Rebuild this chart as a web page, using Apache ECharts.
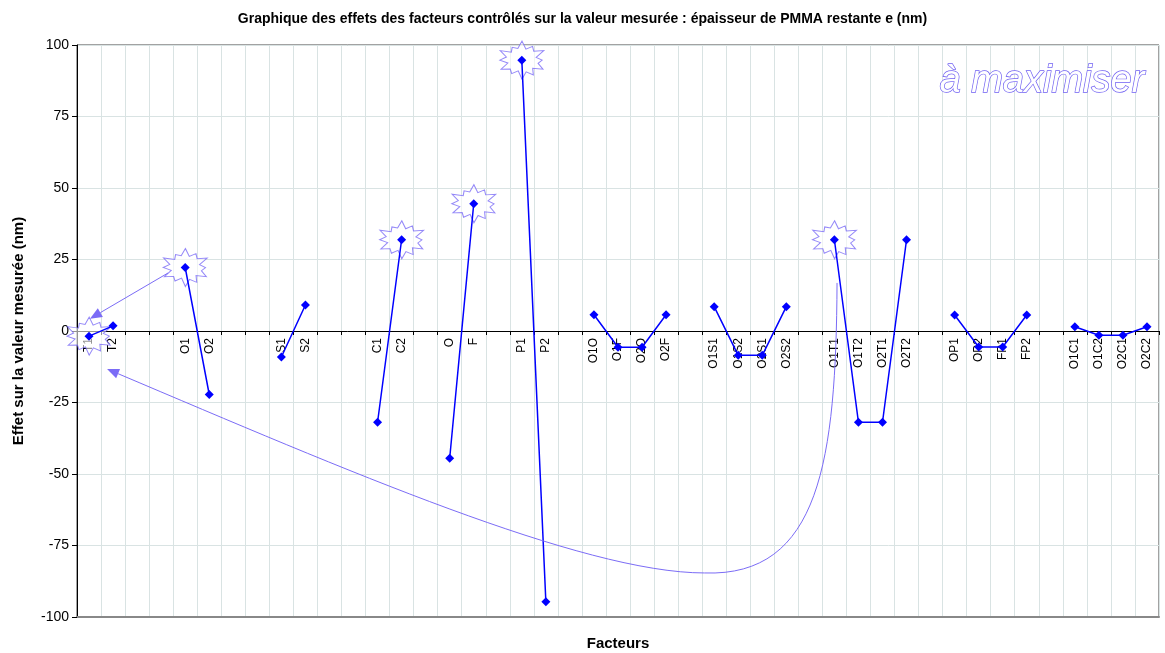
<!DOCTYPE html>
<html>
<head>
<meta charset="utf-8">
<script src="https://cdn.jsdelivr.net/npm/echarts@6/dist/echarts.min.js"></script>
<style>
  html, body { margin: 0; padding: 0; background: #ffffff; }
  #chart { width: 1165px; height: 653px; }
</style>
</head>
<body>
<div id="chart"></div>
<script>
// Factor levels along the x axis (empty slots separate the factor groups)
const categories = [
  'T1', 'T2', '', '',
  'O1', 'O2', '', '',
  'S1', 'S2', '', '',
  'C1', 'C2', '',
  'O', 'F', '',
  'P1', 'P2', '',
  'O1O', 'O1F', 'O2O', 'O2F', '',
  'O1S1', 'O1S2', 'O2S1', 'O2S2', '',
  'O1T1', 'O1T2', 'O2T1', 'O2T2', '',
  'OP1', 'OP2', 'FP1', 'FP2', '',
  'O1C1', 'O1C2', 'O2C1', 'O2C2'
];

// Effect of each level on the remaining PMMA thickness e (nm)
const effects = [
  -1.8, 1.8, null, null,
  22.2, -22.2, null, null,
  -9.1, 9.1, null, null,
  -31.9, 31.9, null,
  -44.5, 44.5, null,
  94.7, -94.7, null,
  5.7, -5.7, -5.7, 5.7, null,
  8.5, -8.5, -8.5, 8.5, null,
  31.9, -31.9, -31.9, 31.9, null,
  5.6, -5.6, -5.6, 5.6, null,
  1.5, -1.5, -1.5, 1.5
];

// Levels flagged with a burst
const highlighted = ['T1', 'O1', 'C2', 'F', 'P1', 'O1T1'];

// Value axis range
const yMin = -100, yMax = 100, yStep = 25;

const ACCENT = '#7b6cf6';
const BLUE = '#0000ff';
const GRID = '#d9e3e3';
const FONT = '"Liberation Sans", Arial, sans-serif';

const GRID_TOP = 45, GRID_BOTTOM = 36, CHART_H = 653;
const plotHeight = CHART_H - GRID_TOP - GRID_BOTTOM;
// Raise the category axis from the bottom edge up to the zero line
const zeroOffset = -plotHeight * (0 - yMin) / (yMax - yMin);

// Irregular 12-point burst outline used as a symbol
function burstSymbol() {
  const outer = [50, 42, 50, 40, 48, 45, 50, 41, 48, 44, 50, 39];
  const inner = [30, 33, 29, 33, 30, 32, 29, 33, 29, 32, 30, 32];
  let d = '';
  for (let k = 0; k < 12; k++) {
    const a1 = (k * 30 - 90) * Math.PI / 180;
    const a2 = (k * 30 - 75) * Math.PI / 180;
    const xo = 50 + outer[k] * Math.cos(a1), yo = 50 + outer[k] * Math.sin(a1);
    const xi = 50 + inner[k] * Math.cos(a2), yi = 50 + inner[k] * Math.sin(a2);
    d += (k ? 'L' : 'M') + xo.toFixed(1) + ' ' + yo.toFixed(1) + 'L' + xi.toFixed(1) + ' ' + yi.toFixed(1);
  }
  return 'path://' + d + 'Z';
}

const burstData = highlighted.map(function (c) {
  const i = categories.indexOf(c);
  return [i, effects[i]];
});

const chart = echarts.init(document.getElementById('chart'), null, { renderer: 'canvas' });

chart.setOption({
  animation: false,
  backgroundColor: '#ffffff',
  title: {
    text: 'Graphique des effets des facteurs contrôlés sur la valeur mesurée : épaisseur de PMMA restante e (nm)',
    left: 'center',
    top: 7,
    textStyle: { fontFamily: FONT, fontSize: 14, fontWeight: 'bold', color: '#000' }
  },
  grid: {
    left: 77, right: 6, top: GRID_TOP, bottom: GRID_BOTTOM,
    containLabel: false,
    outerBoundsMode: 'none',
    show: true, borderColor: '#444', borderWidth: 1, backgroundColor: 'transparent'
  },
  xAxis: [
    {
      type: 'category',
      data: categories,
      boundaryGap: true,
      position: 'bottom',
      offset: zeroOffset,
      axisLine: { onZero: false, lineStyle: { color: '#000', width: 1 } },
      axisTick: { show: true, interval: 0, length: 4, lineStyle: { color: '#000' } },
      axisLabel: {
        interval: 0, rotate: 90, margin: 7,
        fontFamily: FONT, fontSize: 12, color: '#000'
      },
      splitLine: { show: true, interval: 0, lineStyle: { color: GRID, width: 1 } }
    },
    {
      type: 'category',
      data: categories,
      position: 'bottom',
      axisLine: { onZero: false, lineStyle: { color: '#888', width: 2 } },
      axisTick: { show: false },
      axisLabel: { show: false },
      splitLine: { show: false },
      name: 'Facteurs',
      nameLocation: 'middle',
      nameGap: 19,
      nameTextStyle: { fontFamily: FONT, fontSize: 15, fontWeight: 'bold', color: '#000' }
    }
  ],
  yAxis: {
    type: 'value',
    min: yMin, max: yMax, interval: yStep,
    axisLine: { show: true, onZero: false, lineStyle: { color: '#000', width: 1 } },
    axisTick: { show: true, length: 5, lineStyle: { color: '#000' } },
    axisLabel: { fontFamily: FONT, fontSize: 14, color: '#000', margin: 8 },
    splitLine: { show: true, lineStyle: { color: GRID, width: 1 } },
    name: 'Effet sur la valeur mesurée (nm)',
    nameLocation: 'middle',
    nameGap: 51,
    nameTextStyle: { fontFamily: FONT, fontSize: 15, fontWeight: 'bold', color: '#000' }
  },
  series: [
    {
      name: 'bursts',
      type: 'scatter',
      data: burstData,
      symbol: burstSymbol(),
      symbolSize: [44, 38],
      itemStyle: { color: 'rgba(255,255,255,0.72)', borderColor: ACCENT, borderWidth: 1 },
      silent: true,
      z: 1
    },
    {
      name: 'effets',
      type: 'line',
      data: effects,
      connectNulls: false,
      symbol: 'diamond',
      symbolSize: 9,
      showSymbol: true,
      lineStyle: { color: BLUE, width: 1.5 },
      itemStyle: { color: BLUE },
      z: 3
    }
  ]
});

// Annotation arrows, placed in data space (fractional category index, effect value)
const xa = chart.convertToPixel({ xAxisIndex: 0 }, 0);
const xb = chart.convertToPixel({ xAxisIndex: 0 }, 1);
function toPx(i, v) {
  return [xa + i * (xb - xa), chart.convertToPixel({ yAxisIndex: 0 }, v)];
}

function arrowHead(tip, from, len, half) {
  const dx = tip[0] - from[0], dy = tip[1] - from[1];
  const n = Math.sqrt(dx * dx + dy * dy);
  const ux = dx / n, uy = dy / n;
  const bx = tip[0] - ux * len, by = tip[1] - uy * len;
  return {
    points: [tip, [bx - uy * half, by + ux * half], [bx + uy * half, by - ux * half]],
    base: [bx, by]
  };
}

// Straight arrow from the O1 burst towards T1
const sStart = toPx(3.29, 20.3);
const sTip = toPx(0.04, 4.3);
const sHead = arrowHead(sTip, sStart, 12, 5);

// Curved arrow from O1T1 down and back to T2
const c0 = toPx(31.11, 16.8);
const c1 = toPx(31.07, -45);
const c2 = toPx(30.4, -86);
const c3 = toPx(25.6, -84.6);
const c4 = toPx(20.5, -84.6);
const c5 = toPx(10.5, -48);
const cTip = toPx(0.75, -13.3);
const cHead = arrowHead(cTip, c5, 12, 5);

function bezier(a, ca, cb, b) {
  return {
    type: 'bezierCurve', silent: true, z: 10,
    shape: {
      x1: a[0], y1: a[1], cpx1: ca[0], cpy1: ca[1],
      cpx2: cb[0], cpy2: cb[1], x2: b[0], y2: b[1]
    },
    style: { fill: null, stroke: ACCENT, lineWidth: 1 }
  };
}

chart.setOption({
  graphic: [
    {
      type: 'line', silent: true, z: 10,
      shape: { x1: sStart[0], y1: sStart[1], x2: sHead.base[0], y2: sHead.base[1] },
      style: { stroke: ACCENT, lineWidth: 1 }
    },
    {
      type: 'polygon', silent: true, z: 10,
      shape: { points: sHead.points },
      style: { fill: ACCENT }
    },
    bezier(c0, c1, c2, c3),
    bezier(c3, c4, c5, cHead.base),
    {
      type: 'polygon', silent: true, z: 10,
      shape: { points: cHead.points },
      style: { fill: ACCENT }
    },
    {
      type: 'text', silent: true, z: 10,
      right: 20, top: 62,
      style: {
        text: 'à maximiser',
        font: 'italic 38px ' + FONT,
        fill: '#ffffff',
        stroke: '#6f5ff2',
        lineWidth: 1.4
      }
    }
  ]
});
</script>
</body>
</html>
